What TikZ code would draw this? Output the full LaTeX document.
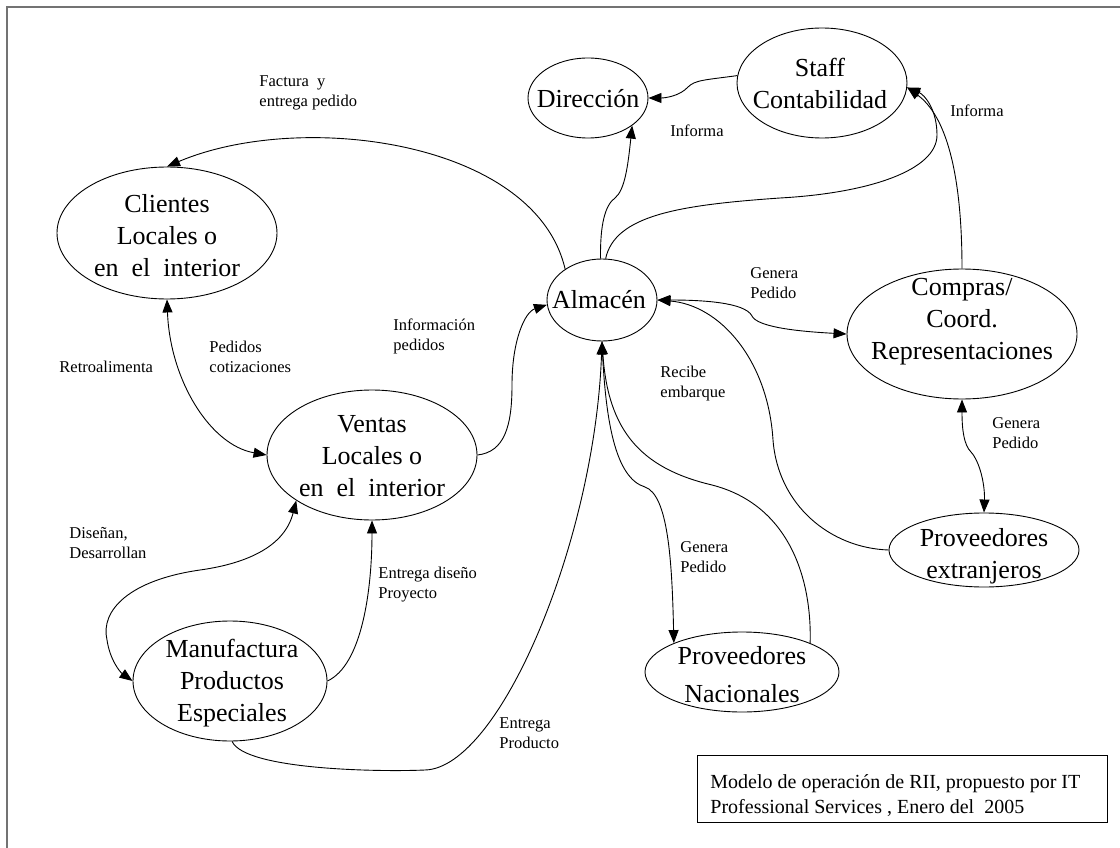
\documentclass[tikz,border=0pt]{standalone}
\usepackage{fontspec}
\setmainfont{Liberation Serif}
\usetikzlibrary{shapes.geometric,arrows.meta}

% multi-line text whose reference point is the baseline of the first line
\newcommand\ellbody[1]{\begin{tabular}[t]{@{}c@{}}#1\end{tabular}}
\newcommand\labbody[1]{\begin{tabular}[t]{@{}l@{}}#1\end{tabular}}

\begin{document}
\begin{tikzpicture}[x=1pt,y=-1pt,
  line width=0.9pt,
  ellnode/.style={draw, ellipse, inner sep=0pt},
  bigtxt/.style={font=\fontsize{26}{32}\selectfont, inner sep=0pt, anchor=base},
  smalltxt/.style={font=\fontsize{16.5}{20}\selectfont, inner sep=0pt, anchor=base west},
  captxt/.style={font=\fontsize{20}{25}\selectfont, inner sep=0pt, anchor=base west},
  tip/.style={-{Triangle[length=13pt,width=10pt]}},
  twotip/.style={{Triangle[length=13pt,width=10pt]}-{Triangle[length=13pt,width=10pt]}},
  framegray/.style={draw=black!55, line width=2pt}]
\useasboundingbox (0,0) rectangle (1120,848);

% page frame (left and top edges)
\draw[framegray] (7,848) -- (7,7) -- (1120,7);

% ellipses
\node[ellnode, minimum width=120pt, minimum height=80pt]  (dir)   at (588,98)  {};
\node[ellnode, minimum width=170pt, minimum height=110pt] (staff) at (822,83)  {};
\node[ellnode, minimum width=220pt, minimum height=132pt] (cli)   at (167,233) {};
\node[ellnode, minimum width=110pt, minimum height=82pt]  (alm)   at (602,300) {};
\node[ellnode, minimum width=230pt, minimum height=130pt] (comp)  at (962,334) {};
\node[ellnode, minimum width=210pt, minimum height=130pt] (ven)   at (372,455) {};
\node[ellnode, minimum width=194pt, minimum height=120pt] (manu)  at (230,681) {};
\node[ellnode, minimum width=194pt, minimum height=80pt]  (pnac)  at (742,672) {};
\node[ellnode, minimum width=190pt, minimum height=74pt]  (pext)  at (984,550) {};

% ellipse texts
\node[bigtxt] (tdir)   at (588,108) {\ellbody{Dirección}};
\node[bigtxt] (tstaff) at (820,77)  {\ellbody{Staff\\Contabilidad}};
\node[bigtxt] (tcli)   at (167,213) {\ellbody{Clientes\\Locales o\\en\ \ el\ \ interior}};
\node[bigtxt] (talm)   at (599,308) {\ellbody{Almacén}};
\node[bigtxt] (tcomp)  at (962,295) {\ellbody{Compras/\\Coord.\\Representaciones}};
\node[bigtxt] (tven)   at (372,432) {\ellbody{Ventas\\Locales o\\en\ \ el\ \ interior}};
\node[bigtxt] (tmanu)  at (232,657) {\ellbody{Manufactura\\Productos\\Especiales}};
\node[bigtxt, font=\fontsize{26}{38}\selectfont] (tpnac) at (742,664) {\ellbody{Proveedores\\Nacionales}};
\node[bigtxt] (tpext)  at (984,546) {\ellbody{Proveedores\\extranjeros}};

% connector labels
\node[smalltxt] (lfact) at (259,87)  {\labbody{Factura\ \ y\\entrega pedido}};
\node[smalltxt] (linf1) at (670,137) {\labbody{Informa}};
\node[smalltxt] (linf2) at (950,117) {\labbody{Informa}};
\node[smalltxt] (lgen1) at (750,278) {\labbody{Genera\\Pedido}};
\node[smalltxt] (linfo) at (393,330) {\labbody{Información\\pedidos}};
\node[smalltxt] (lped)  at (209,352) {\labbody{Pedidos\\cotizaciones}};
\node[smalltxt] (lretr) at (59,372)  {\labbody{Retroalimenta}};
\node[smalltxt] (lrec)  at (660,377) {\labbody{Recibe\\embarque}};
\node[smalltxt] (lgen2) at (992,428) {\labbody{Genera\\Pedido}};
\node[smalltxt] (ldis)  at (69,538)  {\labbody{Diseñan,\\Desarrollan}};
\node[smalltxt] (lent1) at (378,578) {\labbody{Entrega diseño\\Proyecto}};
\node[smalltxt] (lgen3) at (680,552) {\labbody{Genera\\Pedido}};
\node[smalltxt] (lent2) at (499,728) {\labbody{Entrega\\Producto}};

% caption
\node[draw, rectangle, inner sep=0pt, minimum width=410pt, minimum height=67pt] (capbox) at (902,788.5) {};
\node[captxt] (captext) at (710,788) {\labbody{Modelo de operación de RII, propuesto por IT\\Professional Services , Enero del\ \ 2005}};

% connectors
\draw[tip] (alm.140) .. controls (535,140) and (300,110) .. (cli.north);
\draw[tip] (alm.92) .. controls (600,225) and (605,205) .. (615,198)
                    .. controls (625,190) and (628,165) .. (dir.-32);
\draw[tip] (alm.85) .. controls (615,215) and (680,205) .. (780,198)
                    .. controls (870,193) and (937,170) .. (937,135)
                    .. controls (937,110) and (925,95) .. (staff.-3);
\draw[tip] (comp.north) .. controls (962,170) and (945,115) .. (staff.-3);
\draw[tip] (staff.175) .. controls (705,80) and (695,80) .. (688,87)
                       .. controls (680,96) and (665,98) .. (dir.east);
\draw[twotip] (alm.east) .. controls (700,300) and (745,302) .. (752,316)
                         .. controls (757,326) and (790,331) .. (comp.west);
\draw[tip] (pext.west) .. controls (830,548) and (778,505) .. (773,440)
                       .. controls (768,360) and (720,305) .. (alm.east);
\draw[tip] (pnac.23) .. controls (812,580) and (790,505) .. (712,485)
                     .. controls (640,468) and (608,430) .. (alm.south);
\draw[tip] (alm.south) .. controls (605,420) and (615,478) .. (645,487)
                       .. controls (668,495) and (672,560) .. (pnac.157);
\draw[tip] (manu.-88) .. controls (245,770) and (380,772) .. (425,770)
                      .. controls (500,768) and (595,540) .. (alm.south);
\draw[tip] (ven.east) .. controls (505,452) and (512,425) .. (512,385)
                      .. controls (512,340) and (525,312) .. (alm.185);
\draw[twotip] (cli.south) .. controls (170,380) and (210,445) .. (ven.west);
\draw[twotip] (ven.211) .. controls (285,545) and (250,563) .. (200,570)
                        .. controls (130,580) and (100,610) .. (107,640)
                        .. controls (110,660) and (120,672) .. (manu.west);
\draw[tip] (manu.east) .. controls (362,665) and (372,590) .. (ven.south);
\draw[twotip] (comp.south) .. controls (962,430) and (964,445) .. (971,452)
                           .. controls (980,462) and (985,485) .. (pext.north);
\end{tikzpicture}
\end{document}
